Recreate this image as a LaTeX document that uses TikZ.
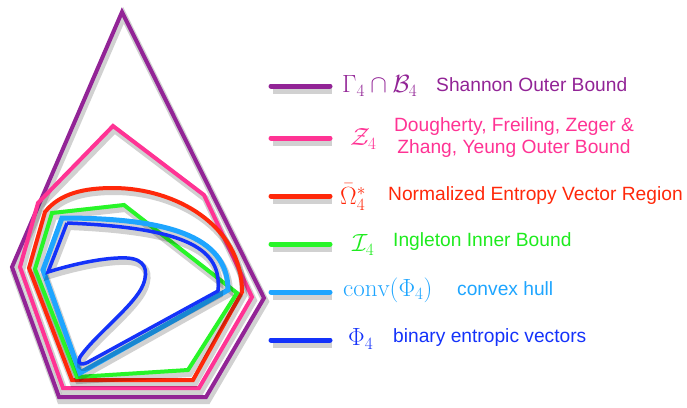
\documentclass[tikz,border=0pt]{standalone}
\usepackage{amsmath}
\usepackage{fontspec}
\setsansfont{Liberation Sans}
\usetikzlibrary{calc}
\definecolor{cpurple}{RGB}{146,36,150}
\definecolor{cpink}{RGB}{255,51,148}
\definecolor{cred}{RGB}{255,40,10}
\definecolor{cgreen}{RGB}{40,245,40}
\definecolor{cgreentxt}{RGB}{30,235,30}
\definecolor{clblue}{RGB}{30,165,255}
\definecolor{cdblue}{RGB}{20,50,250}
\tikzset{
  shad/.style={preaction={draw=black,opacity=0.18,line width=#1,transform canvas={shift={(1.5pt,-3.5pt)}}}},
  region/.style={line width=4pt,line join=miter,shad=7pt},
  legline/.style={line width=5pt,line cap=round,shad=8pt},
  mathlbl/.style={anchor=west,font=\fontsize{25}{28}\selectfont,inner sep=0pt},
  txtlbl/.style={anchor=west,font=\sffamily\fontsize{19.2}{21}\selectfont,inner sep=0pt},
}
\begin{document}
\begin{tikzpicture}[x=1pt,y=-1pt]
\useasboundingbox (0,0) rectangle (687,407);
% regions
\draw[region,cpurple] (122,12) -- (264,298) -- (206,397) -- (59,397) -- (12,267) -- cycle;
\draw[region,cpink] (113,126) -- (204,195) -- (252,297) -- (199,388) -- (63,388) -- (20,267) -- (38,203) -- cycle;
\draw[region,cred] (29,268) -- (45,212) .. controls (60,193) and (85,188) .. (113,188)
   .. controls (175,188) and (242,225) .. (242,292) -- (193,380) -- (72,380) -- cycle;
\draw[region,cgreen] (35,269) -- (52,213) -- (124,205) -- (237,293) -- (188,370) -- (77,377) -- cycle;
\draw[region,clblue,line width=5pt] (62,218) .. controls (165,218) and (228,235) .. (228,290)
   -- (80,373) -- (43,270) -- cycle;
\draw[region,cdblue,line width=3.5pt] (67,223) -- (48,272) .. controls (80,262) and (110,257) .. (127,258)
   .. controls (145,259) and (149,270) .. (143,285)
   .. controls (135,305) and (95,335) .. (80,357) .. controls (76,366) and (84,365) .. (90,361)
   -- (218,291) .. controls (222,250) and (190,228) .. (67,223);
% legend
\coordinate (l1a) at (271,86);  \coordinate (l1b) at (330,86);
\coordinate (l2a) at (271,138); \coordinate (l2b) at (330,138);
\coordinate (l3a) at (271,196); \coordinate (l3b) at (330,196);
\coordinate (l4a) at (271,244); \coordinate (l4b) at (330,244);
\coordinate (l5a) at (271,292); \coordinate (l5b) at (330,292);
\coordinate (l6a) at (271,340); \coordinate (l6b) at (330,340);
\draw[legline,cpurple] (l1a) -- (l1b);
\draw[legline,cpink] (l2a) -- (l2b);
\draw[legline,cred] (l3a) -- (l3b);
\draw[legline,cgreen] (l4a) -- (l4b);
\draw[legline,clblue] (l5a) -- (l5b);
\draw[legline,cdblue] (l6a) -- (l6b);
\node[mathlbl,cpurple] (m1) at (342,86) {$\Gamma_4\cap\mathcal{B}_4$};
\node[txtlbl,cpurple] (t1) at (436,85) {Shannon Outer Bound};
\node[mathlbl,cpink] (m2) at (350,139) {$\mathcal{Z}_4$};
\node[txtlbl,cpink,anchor=center,align=center,font=\sffamily\fontsize{19.2}{22}\selectfont] (t2) at (514,138) {Dougherty, Freiling, Zeger \&\\Zhang, Yeung Outer Bound};
\node[mathlbl,cred] (m3) at (340,197) {$\bar{\Omega}^*_4$};
\node[txtlbl,cred] (t3) at (388,196) {Normalized Entropy Vector Region};
\node[mathlbl,cgreentxt] (m4) at (352,245) {$\mathcal{I}_4$};
\node[txtlbl,cgreentxt] (t4) at (393,242) {Ingleton Inner Bound};
\node[mathlbl,clblue] (m5) at (343,290) {$\mathrm{conv}(\Phi_4)$};
\node[txtlbl,clblue] (t5) at (457,289) {convex hull};
\node[mathlbl,cdblue] (m6) at (348,339) {$\Phi_4$};
\node[txtlbl,cdblue] (t6) at (393,338) {binary entropic vectors};
\end{tikzpicture}
\end{document}
